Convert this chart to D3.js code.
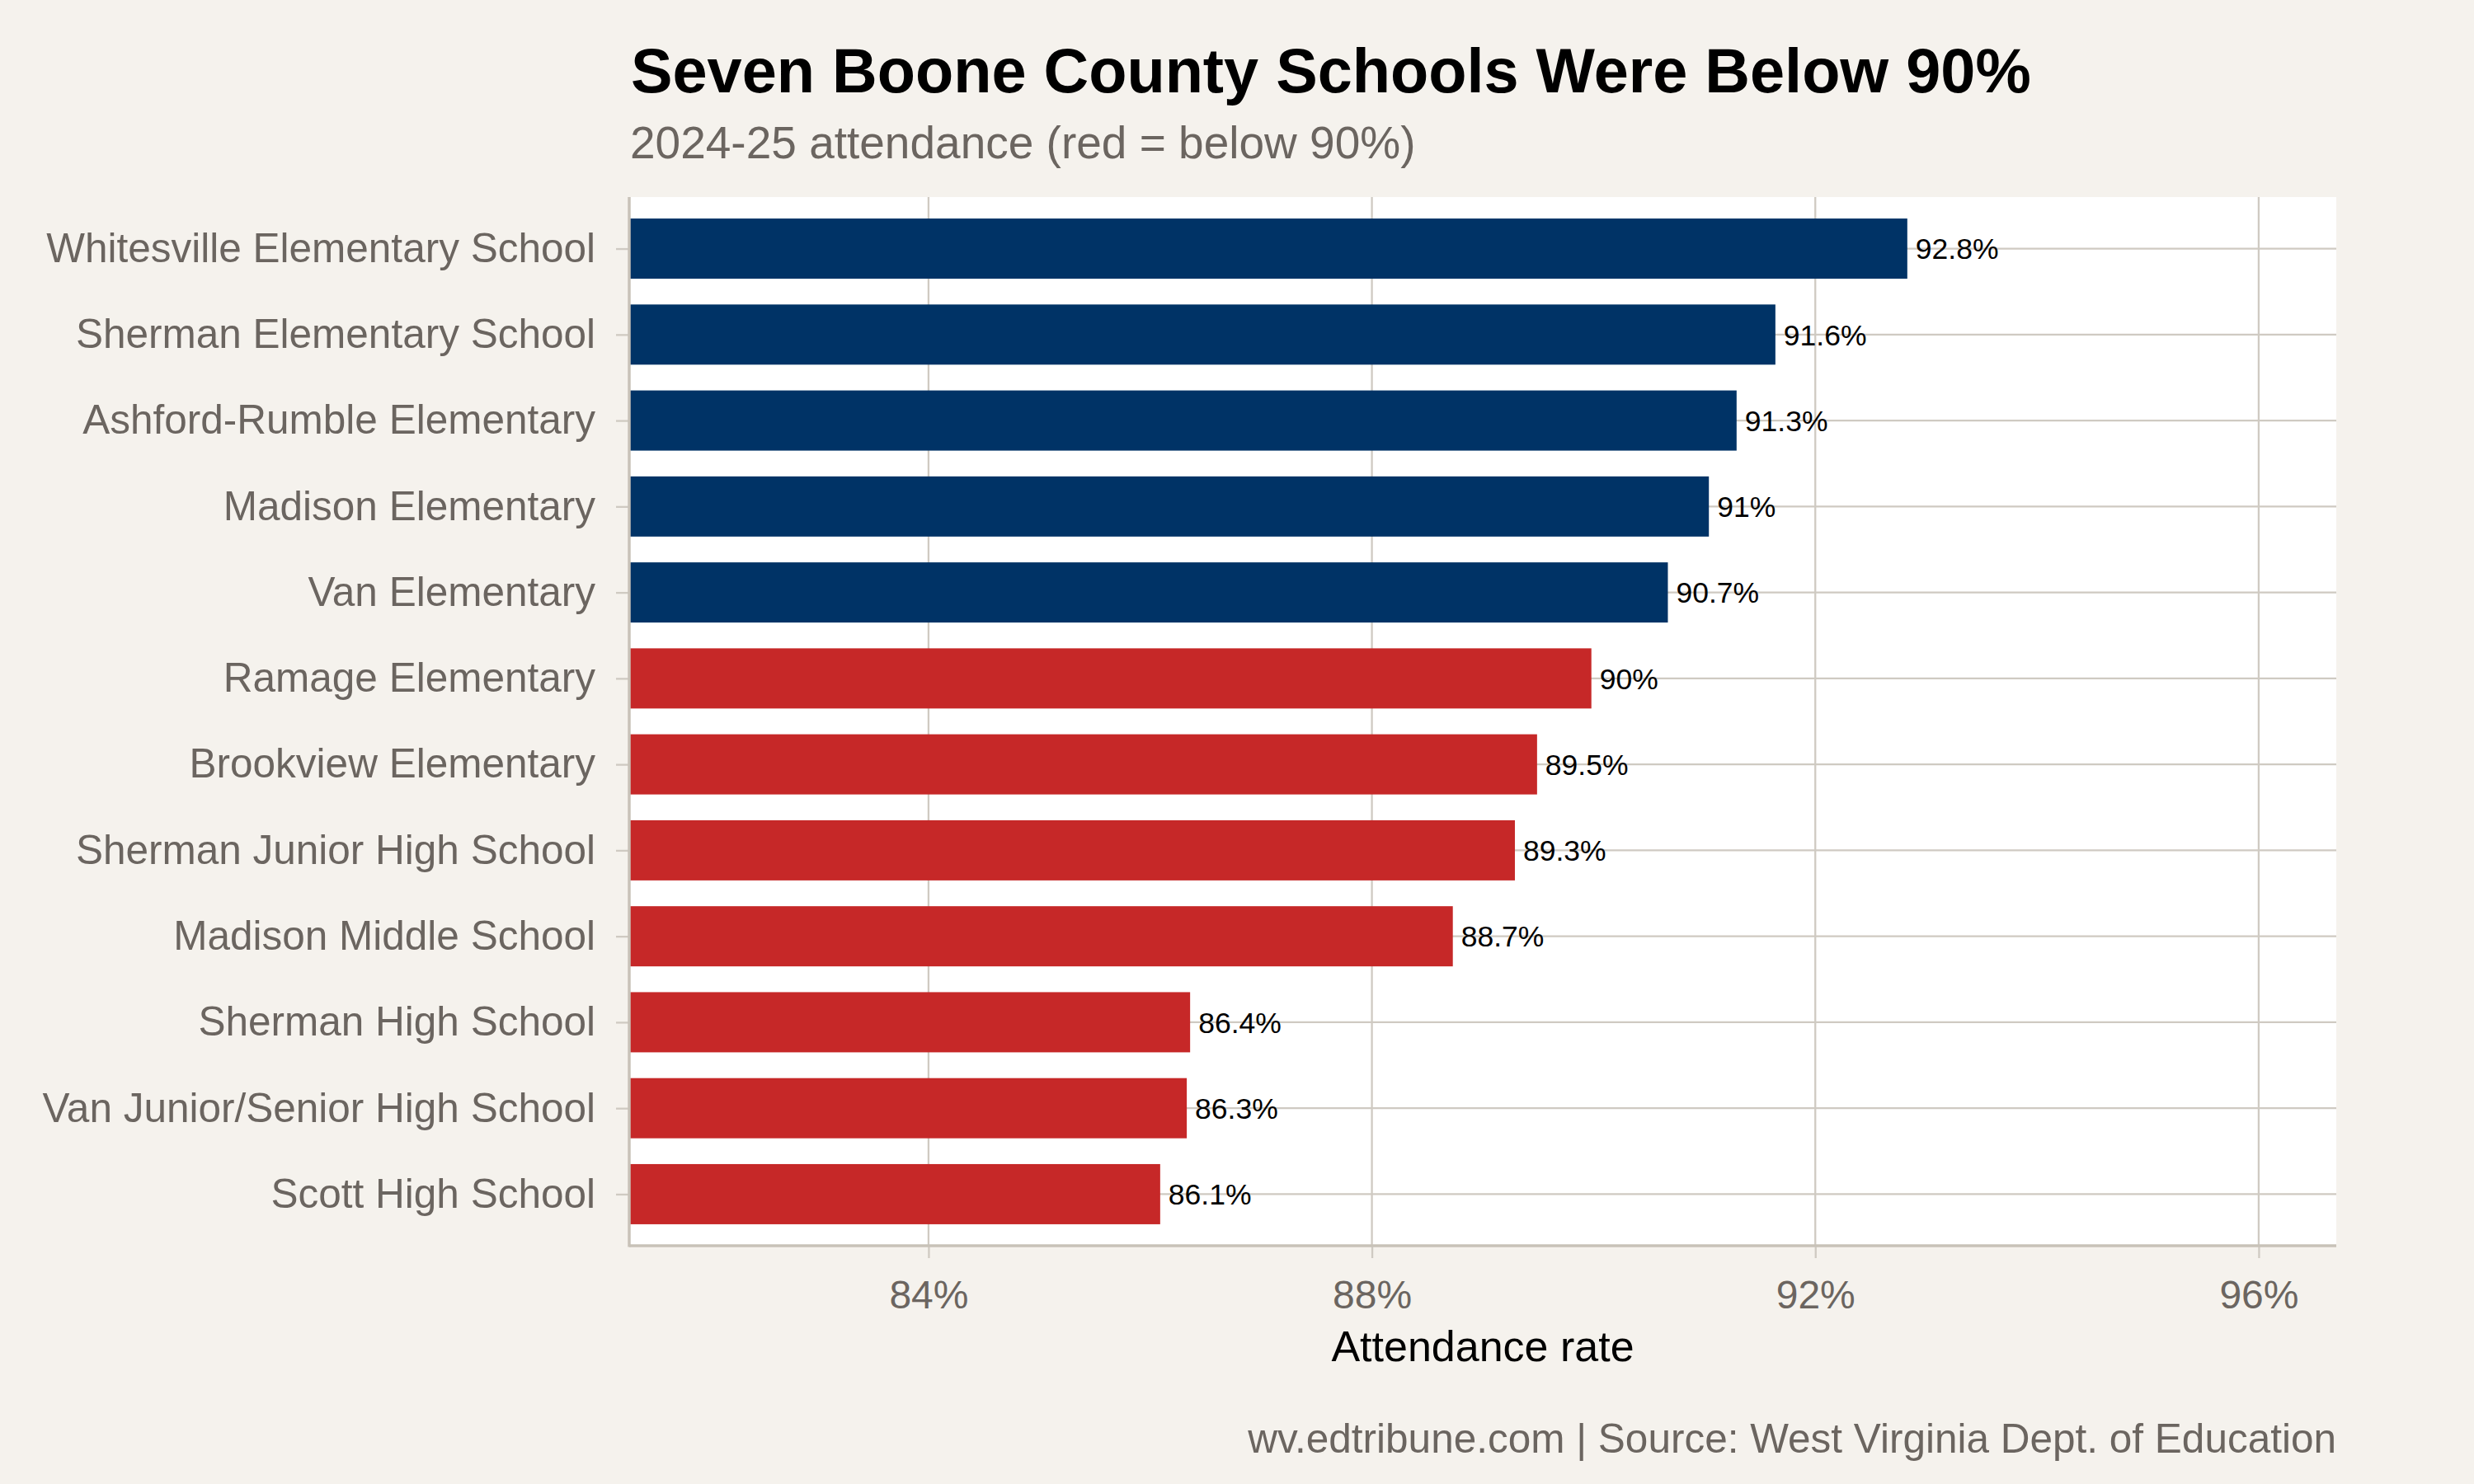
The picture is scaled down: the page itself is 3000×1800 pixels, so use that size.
<!DOCTYPE html>
<html>
<head>
<meta charset="utf-8">
<script src="https://cdn.jsdelivr.net/npm/d3@7"></script>
<style>
  body { margin: 0; background: #f5f2ed; }
  text { font-family: "Liberation Sans", Arial, Helvetica, sans-serif; }
</style>
</head>
<body>
<div id="chart"></div>
<script>
// schools, top to bottom
const schools = [
  "Whitesville Elementary School",
  "Sherman Elementary School",
  "Ashford-Rumble Elementary",
  "Madison Elementary",
  "Van Elementary",
  "Ramage Elementary",
  "Brookview Elementary",
  "Sherman Junior High School",
  "Madison Middle School",
  "Sherman High School",
  "Van Junior/Senior High School",
  "Scott High School"
];
// attendance rate, %
const rates = [92.83, 91.64, 91.29, 91.04, 90.67, 89.98, 89.49, 89.29, 88.73, 86.36, 86.33, 86.09];
const xTicks = [84, 88, 92, 96];
const xLimits = [81.3, 96.7];
const threshold = 90;

const W = 3000, H = 1800;
const pLeft = 763, pRight = 2833, pTop = 239, pBottom = 1511;

const svg = d3.select("#chart").append("svg")
    .attr("width", W)
    .attr("height", H);

svg.append("rect").attr("width", W).attr("height", H).attr("fill", "#f5f2ed");

let x = d3.scaleLinear().domain(xLimits).range([pLeft, pRight]);
let y = d3.scalePoint().domain(schools).range([pTop, pBottom]).padding(0.6);
let barH = y.step() * 0.7;

// panel
svg.append("rect")
    .attr("x", pLeft).attr("y", pTop)
    .attr("width", pRight - pLeft).attr("height", pBottom - pTop)
    .attr("fill", "#ffffff");

// grid
svg.append("g").selectAll("line")
    .data(xTicks)
    .enter().append("line")
    .attr("x1", d => x(d)).attr("x2", d => x(d))
    .attr("y1", pTop).attr("y2", pBottom)
    .attr("stroke", "#cfcac2").attr("stroke-width", 2.3);

svg.append("g").selectAll("line")
    .data(schools)
    .enter().append("line")
    .attr("x1", pLeft).attr("x2", pRight)
    .attr("y1", d => y(d)).attr("y2", d => y(d))
    .attr("stroke", "#cfcac2").attr("stroke-width", 2.3);

// bars
let data = schools.map((s, i) => ({school: s, rate: rates[i]}));
svg.append("g").selectAll("rect")
    .data(data)
    .enter().append("rect")
    .attr("x", x(xLimits[0]))
    .attr("y", d => y(d.school) - barH / 2)
    .attr("width", d => x(d.rate) - x(xLimits[0]))
    .attr("height", barH)
    .attr("fill", d => d.rate < threshold ? "#c62828" : "#003366");

// value labels
svg.append("g").selectAll("text")
    .data(data)
    .enter().append("text")
    .attr("x", d => x(d.rate) + 10)
    .attr("y", d => y(d.school))
    .attr("dy", "0.36em")
    .attr("font-size", 35.5)
    .attr("fill", "#000")
    .text(d => (+d.rate.toFixed(1)) + "%");

// axes
let xAxis = d3.axisBottom(x).tickValues(xTicks).tickSize(15).tickPadding(27)
    .tickFormat(d => d + "%");
let gx = svg.append("g").attr("transform", `translate(0,${pBottom})`).call(xAxis);
gx.select(".domain").remove();
gx.selectAll(".tick line").attr("stroke", "#cfcac2").attr("stroke-width", 2.3);
gx.selectAll(".tick text")
    .attr("font-size", 48)
    .attr("fill", "#6b6560")
    .attr("font-family", "Liberation Sans, Arial, sans-serif");

let yAxis = d3.axisLeft(y).tickSize(16).tickPadding(25);
let gy = svg.append("g").attr("transform", `translate(${pLeft},0)`).call(yAxis);
gy.select(".domain").remove();
gy.selectAll(".tick line").attr("stroke", "#cfcac2").attr("stroke-width", 2.3);
gy.selectAll(".tick text")
    .attr("font-size", 49.5)
    .attr("fill", "#6b6560")
    .attr("font-family", "Liberation Sans, Arial, sans-serif");

// axis lines
svg.append("line")
    .attr("x1", pLeft).attr("x2", pLeft).attr("y1", pTop).attr("y2", pBottom + 1.5)
    .attr("stroke", "#c8c2b8").attr("stroke-width", 3.5);
svg.append("line")
    .attr("x1", pLeft).attr("x2", pRight).attr("y1", pBottom).attr("y2", pBottom)
    .attr("stroke", "#c8c2b8").attr("stroke-width", 3.5);

// titles
svg.append("text")
    .attr("x", 765).attr("y", 112)
    .attr("font-size", 75.7).attr("font-weight", "bold").attr("fill", "#000")
    .text("Seven Boone County Schools Were Below 90%");

svg.append("text")
    .attr("x", 764).attr("y", 192)
    .attr("font-size", 55).attr("fill", "#6b6560")
    .text("2024-25 attendance (red = below 90%)");

svg.append("text")
    .attr("x", (pLeft + pRight) / 2).attr("y", 1651)
    .attr("text-anchor", "middle")
    .attr("font-size", 52).attr("fill", "#000")
    .text("Attendance rate");

svg.append("text")
    .attr("x", pRight).attr("y", 1762)
    .attr("text-anchor", "end")
    .attr("font-size", 49.5).attr("fill", "#6b6560")
    .text("wv.edtribune.com | Source: West Virginia Dept. of Education");
</script>
</body>
</html>
